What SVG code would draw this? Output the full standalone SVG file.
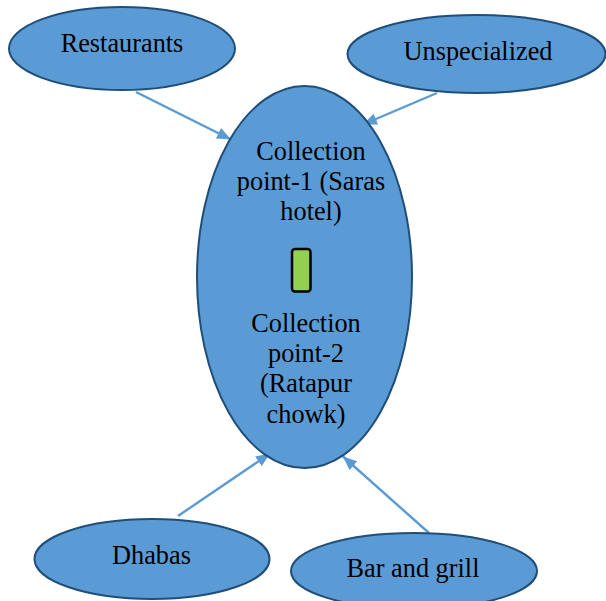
<svg xmlns="http://www.w3.org/2000/svg" width="606" height="601" viewBox="0 0 606 601">
<style>
.node{fill:#5B9BD5;stroke:#1F4E79;stroke-width:2}
.lbl{font-family:"Liberation Serif","Times New Roman",serif;font-size:26.3px;fill:#000;text-anchor:middle}
.conn{stroke:#5B9BD5;stroke-width:2.4;fill:none;marker-end:url(#ah)}
</style>
<defs>
<marker id="ah" viewBox="0 0 12 10" refX="12" refY="5" markerWidth="14" markerHeight="12" markerUnits="userSpaceOnUse" orient="auto">
<path d="M0,0 L12,5 L0,10 Z" fill="#5B9BD5"/>
</marker>
</defs>
<rect width="606" height="601" fill="#fff"/>
<g id="connectors">
<line class="conn" x1="136" y1="92" x2="231" y2="139.5"/>
<line class="conn" x1="437" y1="93" x2="363" y2="124.5"/>
<line class="conn" x1="178" y1="516" x2="270" y2="453.5"/>
<line class="conn" x1="429" y1="533" x2="343" y2="456.5"/>
</g>
<g id="restaurants">
<ellipse class="node" cx="122" cy="48.5" rx="113" ry="41.5"/>
<text class="lbl" x="122" y="52">Restaurants</text>
</g>
<g id="unspecialized">
<ellipse class="node" cx="476.5" cy="54" rx="129" ry="39"/>
<text class="lbl" x="478" y="60">Unspecialized</text>
</g>
<g id="collection">
<ellipse class="node" cx="304.5" cy="277" rx="107.5" ry="191"/>
<text class="lbl" x="311" y="160">Collection</text>
<text class="lbl" x="311" y="190">point-1 (Saras</text>
<text class="lbl" x="311" y="220">hotel)</text>
<rect x="292" y="249" width="18.5" height="42.5" rx="3" fill="#92D050" stroke="#000" stroke-width="2.5"/>
<text class="lbl" x="306" y="332">Collection</text>
<text class="lbl" x="306" y="362">point-2</text>
<text class="lbl" x="306" y="392">(Ratapur</text>
<text class="lbl" x="306" y="423">chowk)</text>
</g>
<g id="dhabas">
<ellipse class="node" cx="152" cy="559" rx="117.5" ry="40"/>
<text class="lbl" x="151.5" y="564">Dhabas</text>
</g>
<g id="bar-and-grill">
<ellipse class="node" cx="414" cy="571" rx="123" ry="38"/>
<text class="lbl" x="413" y="577">Bar and grill</text>
</g>
</svg>
